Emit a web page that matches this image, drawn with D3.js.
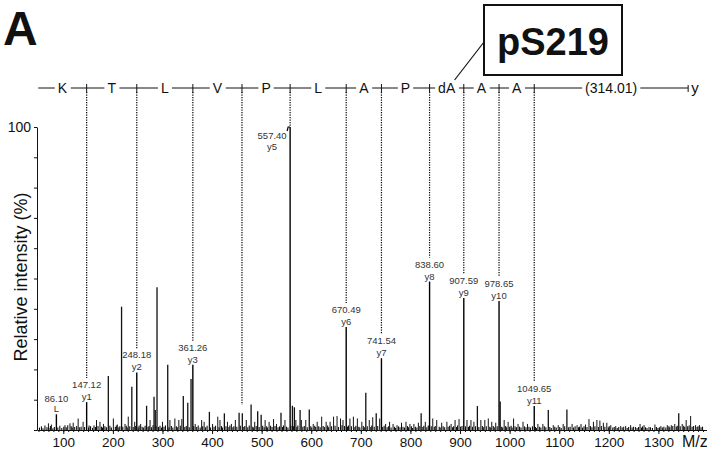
<!DOCTYPE html>
<html><head><meta charset="utf-8">
<script src="https://cdn.jsdelivr.net/npm/d3@7"></script>
<style>body{margin:0;background:#fff}svg{display:block;font-family:"Liberation Sans",Arial,sans-serif}</style>
</head><body><svg id="c" width="707" height="452"></svg>
<script>
// ---------- data ----------
const xTicks = [100,200,300,400,500,600,700,800,900,1000,1100,1200,1300];
const yTicks = [0,10,20,30,40,50,60,70,80,90,100];
const residues = ["K","T","L","V","P","L","A","P","dA","A","A","(314.01)"];
const yIonMz = [147.12,248.18,361.26,460.31,557.40,670.49,741.54,838.60,907.59,978.65,1049.65];
const seqStartMz = 49.5, seqEndMz = 1360;
// annotated peaks: [m/z, ion label, relative intensity %]
const annotated = [[86.10,"L",5.2],[147.12,"y1",9.2],[248.18,"y2",19.0],[361.26,"y3",21.5],[557.40,"y5",100],
  [670.49,"y6",34.0],[741.54,"y7",23.7],[838.60,"y8",49.0],[907.59,"y9",43.6],[978.65,"y10",42.6],[1049.65,"y11",7.9]];
// dotted guide for y4 (no labelled peak) ends at this intensity
const y4GuideEnd = 8.3;
// other strong peaks
const majorPeaks = [[190.8,17.8],[217.5,40.7],[238.2,14.3],[268,8.0],[283,11],[285.5,6.6],[289,47.1],[310.6,21.5],
  [342,11.2],[351,9],[357.6,16.8],[394.6,6],[424.8,5.5],[454.5,5.7],[461,5.5],[478.7,8.4],[492,6.2],[499,5],[539,5.7],
  [562,8],[566,7.5],[577.5,6.6],[596,6.8],[710,12.3],[731,5.5],[821.6,5.5],[935,7.9],[981,9.4],[1078,6.6],[1115.5,6.8],[1341,5.5]];
const smallPeaks = [[70,2.2],[76,1.8],[103.4,1.6],[113.5,2.2],[120,2.4],[130,3.8],[140,2.7],[152,1.5],[167,3.3],[174,2.7],[181,2.0],
  [201,3.8],[209,1.8],[224.5,2.0],[231,4.4],[244,2.7],[256,2.0],[275,3.3],[300,2.7],[315,3.3],[325,3.8],[333,3.3],[339,3.6],[366,2.0],
  [379,3.3],[384,2.7],[401,2.0],[411.5,4.4],[416,3.3],[431,2.7],[439,2.0],[447,3.3],[469,3.3],[486,2.7],[507,3.3],[515,2.7],[524,3.6],
  [530,2.0],[547,3.3],[569,3.3],[580,3.3],[589,3.3],[604,2.0],[612,2.7],[621,4.4],[630,2.7],[638,2.7],[645,4.4],[652,4.6],[659,3.8],
  [664,3.3],[678,3.8],[685,4.4],[693,3.8],[702,2.7],[717,3.3],[724,4.2],[738,3.8],[750,2.0],[758,2.7],[765,2.0],[773,1.6],[782,2.4],
  [791,2.7],[799,2.0],[807,2.0],[816,2.4],[830,2.7],[845,3.8],[853,3.3],[863,2.4],[873.5,2.7],[882,2.0],[890,3.3],[898,3.6],[914,3.3],
  [922,3.3],[928,2.7],[942,3.3],[950,3.3],[957,3.8],[964,2.7],[972,2.4],[989,3.3],[997,2.7],[1008,3.8],[1017,2.0],[1027,2.7],[1036,2.0],
  [1057,2.0],[1067,2.0],[1088,1.6],[1098,1.6],[1108,2.0],[1126,2.0],[1136,1.6],[1144,2.0],[1153,1.8],[1160,3.6],[1169,2.7],[1176,3.3],
  [1182,3.1],[1189,2.4],[1196,2.4],[1204,1.6],[1214,1.3],[1224,1.3],[1234,1.3],[1244,1.6],[1254,1.0],[1263,2.0],[1271,1.6],[1281,1.0],
  [1293,1.8],[1305,1.3],[1318,1.6],[1326,1.6],[1333,2.0],[1348,2.0],[1356,3.3],[1365,4.6],[1375,1.6],[1383,1.6]];
const lowNoise = [[52,0.8],[56,1.2],[59,0.6],[63,1.5],[67,0.9],[71,0.7],[74,1.3],[79,0.6],[82,1.0],[89,0.8],[93,1.4],[97,0.7],[101,1.1],
  [106,0.9],[109,1.6],[116,1.2],[118,0.8],[123,1.0],[127,1.3],[133,0.9],[136,1.1],[143,1.0],[151,0.8],[155,1.2],[159,0.7],[162,1.5],
  [165,1.0],[170,1.3],[177,1.1],[179,0.8],[184,1.2],[187,0.9],[194,1.4],[197,0.8],[205,1.0],[207,1.5],[212,0.9],[214,1.2],[220,1.1],
  [227,1.4],[229,0.8],[234,1.2],[241,1.0],[246,1.3],[251,0.9],[253,1.5],[259,1.1],[262,0.8],[265,1.4],[271,1.0],[273,1.3],[278,0.9],
  [281,1.6],[287,1.2],[292,1.0],[295,1.4],[298,0.8],[303,1.1],[306,1.5],[313,0.9],[318,1.3],[321,0.8],[328,1.2],[330,0.9],[336,1.4],
  [345,1.0],[348,1.3],[354,0.9],[363,1.2],[369,1.0],[372,1.5],[376,0.8],[381,1.2],[387,0.9],[390,1.4],[397,0.8],[404,1.1],[407,1.4],
  [414,0.9],[419,1.3],[421,0.8],[428,1.2],[434,1.0],[436,1.5],[442,0.9],[444,1.2],[450,1.1],[457,1.4],[464,1.0],[466,1.3],[472,0.9],
  [475,1.5],[482,1.1],[484,0.8],[489,1.3],[495,1.0],[502,1.4],[505,0.9],[510,1.2],[512,0.8],[518,1.4],[521,1.0],[527,1.3],[533,0.9],
  [536,1.2],[542,1.0],[544,1.5],[550,1.1],[553,0.8],[559,1.4],[564,1.2],[571,1.0],[573,1.5],[583,1.1],[586,1.3],[592,0.9],[599,1.2],
  [601,0.8],[607,1.4],[609,1.0],[615,1.2],[618,0.9],[624,1.3],[627,1.0],[633,1.5],[635,0.9],[641,1.2],[648,1.4],[655,1.0],[662,1.6],
  [667,1.3],[673,1.1],[675,1.5],[681,1.2],[688,1.0],[690,1.4],[696,1.1],[698,0.8],[705,1.3],[707,0.9],[713,1.2],[720,1.0],[722,1.5],
  [727,1.1],[734,1.3],[744,1.0],[747,1.4],[753,0.9],[756,1.2],[761,0.8],[768,1.1],[770,0.7],[776,1.2],[779,0.9],[785,1.1],[788,0.8],
  [794,1.3],[796,0.9],[802,1.2],[804,0.7],[810,1.1],[813,0.8],[819,1.3],[825,1.0],[827,1.4],[833,0.9],[836,1.5],[842,1.2],[848,1.0],
  [850,1.3],[858,1.1],[860,0.8],[866,1.2],[869,0.9],[876,1.1],[879,1.4],[885,0.9],[887,1.2],[893,1.0],[895,1.5],[901,1.1],[904,1.3],
  [911,1.2],[917,1.0],[919,1.4],[925,1.1],[931,1.2],[938,1.0],[945,1.3],[947,0.9],[953,1.2],[960,1.1],[962,0.8],[967,1.3],[969,0.9],
  [975,1.2],[984,1.1],[986,0.8],[992,1.3],[994,0.9],[1000,1.1],[1003,1.4],[1005,0.8],[1011,1.2],[1014,0.9],[1020,1.1],[1023,0.8],
  [1030,1.2],[1033,0.9],[1039,1.1],[1042,0.8],[1046,1.2],[1052,1.0],[1054,0.7],[1060,1.1],[1063,0.8],[1070,1.2],[1073,0.9],[1081,1.0],
  [1084,0.7],[1091,1.1],[1094,0.8],[1101,1.0],[1104,0.7],[1111,1.2],[1119,0.9],[1122,1.1],[1129,0.8],[1132,1.2],[1139,0.9],[1141,1.1],
  [1147,0.8],[1150,1.2],[1156,1.0],[1163,1.3],[1166,0.9],[1172,1.2],[1179,1.0],[1185,1.3],[1192,1.1],[1199,0.9],[1201,1.2],[1208,0.8],
  [1211,1.0],[1217,0.7],[1220,1.0],[1227,0.8],[1230,1.1],[1237,0.7],[1240,1.0],[1247,0.8],[1250,1.1],[1257,0.7],[1260,1.0],[1266,0.8],
  [1268,1.2],[1274,0.9],[1277,0.7],[1284,0.9],[1288,0.7],[1296,1.0],[1299,0.7],[1302,0.9],[1308,0.8],[1311,1.1],[1315,0.8],[1321,1.2],
  [1323,0.9],[1329,1.3],[1336,1.1],[1338,1.4],[1344,1.2],[1351,1.4],[1353,1.0],[1359,1.2],[1362,1.5],[1368,1.1],[1371,1.3],[1378,1.0],
  [1380,1.2],[1386,0.9],[1389,1.1]];
const minorTicks = d3.range(50, 1400, 10);

// ---------- drawing ----------
const svg = d3.select("#c");
const x = d3.scaleLinear().domain([47, 1398]).range([37, 707]);
const y = d3.scaleLinear().domain([0, 100]).range([430, 127]);
const seqY = 88;
const ink = "#111";

// panel letter
svg.append("text").attr("x", 3).attr("y", 45).attr("font-size", 48).attr("font-weight", "bold").attr("fill", ink).text("A");

// pS219 box + leader
svg.append("rect").attr("x", 484).attr("y", 5).attr("width", 138).attr("height", 70)
  .attr("fill", "#fff").attr("stroke", ink).attr("stroke-width", 2);
svg.append("text").attr("x", 553).attr("y", 55).attr("text-anchor", "middle").attr("font-size", 38)
  .attr("font-weight", "bold").attr("fill", ink).text("pS219");
svg.append("line").attr("x1", 484).attr("y1", 42).attr("x2", x(yIonMz[7]) + 25).attr("y2", seqY - 8)
  .attr("stroke", ink).attr("stroke-width", 1.2);

// noise and peaks
const g = svg.append("g");
function sticks(data, w, col) {
  g.selectAll(null).data(data).enter().append("line")
    .attr("x1", d => x(d[0])).attr("x2", d => x(d[0]))
    .attr("y1", y(0)).attr("y2", d => y(d[d.length - 1]))
    .attr("stroke", col).attr("stroke-width", w);
}
sticks(lowNoise, 1.1, "#111");
sticks(smallPeaks, 1, "#111");
sticks(majorPeaks, 1.3, "#111");
sticks(annotated.map(d => [d[0], d[2]]), 1.4, "#000");

// hook on base peak
const bp = annotated[4];
svg.append("path").attr("d", `M${x(bp[0]) - 3},${y(bp[2]) + 4} L${x(bp[0]) - 2},${y(bp[2])} L${x(bp[0])},${y(bp[2])}`)
  .attr("fill", "none").attr("stroke", "#000").attr("stroke-width", 1.2);

// peak labels
const lab = svg.append("g").attr("font-size", 9.5).attr("fill", "#333").attr("text-anchor", "middle");
annotated.forEach((d, i) => {
  let cx = x(d[0]), top = y(d[2]);
  let mY = top - 14, iY = top - 2;
  if (d[1] === "y5") { cx = x(d[0]) - 18; mY = top + 12; iY = top + 23; }
  if (d[1] === "L") { mY = top - 12; iY = top - 2; }
  lab.append("text").attr("x", cx).attr("y", mY).text(d[0].toFixed(2));
  lab.append("text").attr("x", cx).attr("y", iY).text(d[1]);
});

// dotted guides
const guides = yIonMz.map((m, i) => {
  const a = annotated.find(d => d[0] === m);
  let end = a ? (a[1] === "y5" ? y(a[2]) : y(a[2]) - 24) : y(y4GuideEnd);
  return [m, end];
});
svg.append("g").selectAll("line").data(guides).enter().append("line")
  .attr("x1", d => x(d[0])).attr("x2", d => x(d[0])).attr("y1", seqY + 4).attr("y2", d => d[1])
  .attr("stroke", "#000").attr("stroke-width", 1.2).attr("stroke-dasharray", "1.2,1.3");

// sequence bar
const sq = svg.append("g");
sq.append("line").attr("x1", x(seqStartMz)).attr("x2", x(seqEndMz)).attr("y1", seqY).attr("y2", seqY)
  .attr("stroke", ink).attr("stroke-width", 1);
const bounds = [seqStartMz, ...yIonMz, seqEndMz];
residues.forEach((r, i) => {
  const cx = (x(bounds[i]) + x(bounds[i + 1])) / 2;
  const t = sq.append("text").attr("x", cx).attr("y", seqY + 5).attr("text-anchor", "middle")
    .attr("font-size", 14).attr("fill", ink).text(r);
  const bb = t.node().getBBox();
  sq.insert("rect", "text").attr("x", bb.x - 3).attr("y", seqY - 2).attr("width", bb.width + 6).attr("height", 4).attr("fill", "#fff");
});
sq.selectAll("line.sep").data(yIonMz).enter().append("line").attr("class", "sep")
  .attr("x1", d => x(d)).attr("x2", d => x(d)).attr("y1", seqY - 4).attr("y2", seqY + 5)
  .attr("stroke", ink).attr("stroke-width", 1);
sq.append("line").attr("x1", x(seqEndMz)).attr("x2", x(seqEndMz)).attr("y1", seqY - 3).attr("y2", seqY + 4)
  .attr("stroke", ink).attr("stroke-width", 1);
sq.append("text").attr("x", x(seqEndMz) + 3).attr("y", seqY + 5).attr("font-size", 15).attr("fill", ink).text("y");

// axes
const xa = svg.append("g").attr("transform", `translate(0,${y(0)})`)
  .call(d3.axisBottom(x).tickValues(xTicks).tickSize(4).tickSizeOuter(0).tickFormat(d3.format("d")));
xa.selectAll("text").attr("font-size", 13.5).attr("fill", ink).attr("font-family", "Liberation Sans, Arial, sans-serif");
xa.selectAll("line,path").attr("stroke", ink);
const xm = svg.append("g").attr("transform", `translate(0,${y(0)})`)
  .call(d3.axisBottom(x).tickValues(minorTicks).tickSize(2).tickFormat(""));
xm.select(".domain").remove();
xm.selectAll("line").attr("stroke", ink);

const ya = svg.append("g").attr("transform", `translate(${x(47)},0)`)
  .call(d3.axisLeft(y).tickValues(yTicks).tickSize(3).tickSizeOuter(0).tickFormat(d => d === 100 ? "100" : ""));
ya.selectAll("text").attr("font-size", 14).attr("fill", ink).attr("font-family", "Liberation Sans, Arial, sans-serif");
ya.selectAll("line,path").attr("stroke", ink);

svg.append("text").attr("transform", "translate(27,277) rotate(-90)").attr("text-anchor", "middle")
  .attr("font-size", 18).attr("fill", ink).text("Relative intensity (%)");
svg.append("text").attr("x", 682).attr("y", 447).attr("font-size", 16).attr("fill", ink).text("M/z");
</script></body></html>
